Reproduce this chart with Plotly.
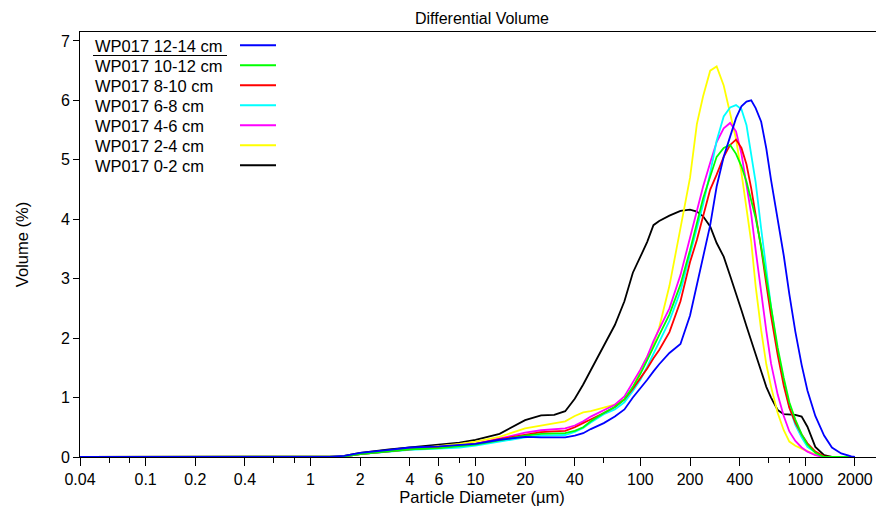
import plotly.graph_objects as go
import math

# Particle diameter grid (µm)
SIZES = [0.04, 1.0, 1.3, 1.6, 2, 3, 4, 6, 8, 10, 14, 20, 25, 30, 35, 40, 45, 50, 60, 70, 80, 90,
         100, 110, 120, 130, 150, 175, 200, 220, 240, 265, 290, 320, 350, 380, 410, 440, 470, 500,
         540, 580, 620, 680, 740, 800, 870, 950, 1030, 1150, 1300, 1450, 1650, 1900, 2000]

NAMES = ["WP017 12-14 cm", "WP017 10-12 cm", "WP017 8-10 cm", "WP017 6-8 cm",
         "WP017 4-6 cm", "WP017 2-4 cm", "WP017 0-2 cm"]
COLORS = ["#0000FF", "#00FF00", "#FF0000", "#00FFFF", "#FF00FF", "#FFFF00", "#000000"]

V_12_14 = [0, 0, 0, 0.02, 0.07, 0.12, 0.16, 0.18, 0.20, 0.22, 0.29, 0.34, 0.33, 0.33, 0.33, 0.36,
           0.40, 0.47, 0.57, 0.68, 0.80, 1.00, 1.15, 1.30, 1.44, 1.56, 1.75, 1.90, 2.38, 2.90, 3.38,
           3.90, 4.55, 5.05, 5.39, 5.70, 5.90, 5.98, 6.00, 5.87, 5.64, 5.19, 4.66, 4.02, 3.39, 2.74,
           2.11, 1.55, 1.12, 0.69, 0.36, 0.16, 0.06, 0.01, 0]
V_10_12 = [0, 0, 0, 0.01, 0.05, 0.10, 0.13, 0.15, 0.18, 0.21, 0.28, 0.36, 0.39, 0.39, 0.40, 0.44,
           0.50, 0.60, 0.74, 0.84, 0.97, 1.18, 1.40, 1.63, 1.86, 2.05, 2.40, 2.90, 3.48, 3.93, 4.35,
           4.72, 5.05, 5.20, 5.25, 5.10, 4.89, 4.63, 4.34, 4.02, 3.54, 3.02, 2.50, 1.84, 1.33, 0.92,
           0.63, 0.38, 0.21, 0.07, 0, 0, 0, 0, 0]
V_8_10 = [0, 0, 0, 0.01, 0.05, 0.10, 0.13, 0.16, 0.19, 0.22, 0.30, 0.38, 0.42, 0.43, 0.44, 0.50,
          0.57, 0.62, 0.74, 0.84, 0.97, 1.15, 1.32, 1.49, 1.66, 1.80, 2.10, 2.62, 3.28, 3.65, 4.05,
          4.50, 4.75, 5.05, 5.25, 5.34, 5.20, 4.92, 4.52, 4.09, 3.51, 2.91, 2.37, 1.72, 1.20, 0.83,
          0.58, 0.38, 0.23, 0.09, 0.01, 0, 0, 0, 0]
V_6_8 = [0, 0, 0, 0.01, 0.05, 0.09, 0.12, 0.14, 0.16, 0.19, 0.26, 0.33, 0.36, 0.37, 0.37, 0.42,
         0.49, 0.58, 0.72, 0.80, 0.92, 1.11, 1.30, 1.52, 1.73, 1.94, 2.29, 2.79, 3.42, 3.82, 4.25,
         4.78, 5.32, 5.73, 5.88, 5.92, 5.85, 5.58, 5.10, 4.62, 3.84, 3.16, 2.52, 1.77, 1.26, 0.84,
         0.54, 0.33, 0.17, 0.08, 0, 0, 0, 0, 0]
V_4_6 = [0, 0, 0, 0.01, 0.05, 0.10, 0.13, 0.16, 0.19, 0.22, 0.31, 0.41, 0.45, 0.46, 0.48, 0.53,
         0.60, 0.68, 0.79, 0.88, 1.02, 1.25, 1.47, 1.69, 1.95, 2.15, 2.50, 3.06, 3.70, 4.15, 4.55,
         4.95, 5.30, 5.53, 5.62, 5.48, 5.10, 4.58, 4.08, 3.48, 2.73, 2.12, 1.57, 1.05, 0.69, 0.43,
         0.27, 0.16, 0.09, 0.03, 0, 0, 0, 0, 0]
V_2_4 = [0, 0, 0, 0.01, 0.05, 0.10, 0.13, 0.18, 0.22, 0.26, 0.34, 0.48, 0.53, 0.56, 0.60, 0.69,
         0.75, 0.77, 0.83, 0.88, 0.97, 1.15, 1.46, 1.69, 1.90, 2.18, 2.88, 3.85, 4.70, 5.60, 6.07,
         6.50, 6.57, 6.25, 5.79, 5.35, 4.78, 4.13, 3.62, 2.87, 2.13, 1.56, 1.18, 0.74, 0.45, 0.26,
         0.19, 0.14, 0.10, 0.04, 0, 0, 0, 0, 0]
V_0_2 = [0, 0, 0, 0.02, 0.07, 0.13, 0.16, 0.20, 0.24, 0.29, 0.39, 0.62, 0.70, 0.71, 0.77, 0.98,
         1.22, 1.46, 1.87, 2.22, 2.62, 3.10, 3.37, 3.62, 3.90, 3.97, 4.06, 4.14, 4.16, 4.13, 4.05,
         3.88, 3.60, 3.37, 3.05, 2.76, 2.47, 2.20, 1.95, 1.72, 1.44, 1.18, 1.00, 0.79, 0.72, 0.71,
         0.71, 0.68, 0.51, 0.17, 0.03, 0, 0, 0, 0]

SERIES = [V_12_14, V_10_12, V_8_10, V_6_8, V_4_6, V_2_4, V_0_2]

X_TICKS = [0.04, 0.1, 0.2, 0.4, 1, 2, 4, 6, 10, 20, 40, 100, 200, 400, 1000, 2000]
X_TICKTEXT = ["0.04", "0.1", "0.2", "0.4", "1", "2", "4", "6", "10", "20", "40", "100", "200",
              "400", "1000", "2000"]
X_MINOR = [0.06, 0.08, 0.6, 0.8, 8, 60, 600, 800]
Y_TICKS = [0, 1, 2, 3, 4, 5, 6, 7]

FONT = "Liberation Sans, Arial, sans-serif"

# page has an 8px body margin: figure origin sits at (8, 8) in the window
OFF = 8
FIG_W, FIG_H = 884 - OFF, 511 - OFF
L, R, T, B = 80, 884, 32, 457   # plot area in window pixels


def px(x):
    return (x - L) / (R - L)


def py(y):
    return (B - y) / (B - T)


fig = go.Figure()
# draw in reverse so the first-listed series lies on top
for name, col, vals in reversed(list(zip(NAMES, COLORS, SERIES))):
    fig.add_trace(go.Scatter(x=SIZES, y=vals, mode="lines", name=name,
                             line=dict(color=col, width=1.8), showlegend=False))

# manual legend (text left, line sample right)
annotations = []
shapes = []
for i, (name, col) in enumerate(zip(NAMES, COLORS)):
    yc = 45.7 + 20 * i
    annotations.append(dict(text=name, xref="paper", yref="paper", x=px(93), y=py(yc),
                            xanchor="left", yanchor="middle", showarrow=False,
                            font=dict(family=FONT, size=16.5, color="black")))
    shapes.append(dict(type="line", xref="paper", yref="paper", x0=px(240), x1=px(276),
                       y0=py(yc - 0.5), y1=py(yc - 0.5), line=dict(color=col, width=2)))
shapes.append(dict(type="line", xref="paper", yref="paper", x0=px(93), x1=px(227),
                   y0=py(55.5), y1=py(55.5), line=dict(color="black", width=1)))

fig.update_layout(
    width=FIG_W, height=FIG_H,
    margin=dict(l=L - OFF, r=884 - R, t=T - OFF, b=FIG_H - (B - OFF)),
    paper_bgcolor="white", plot_bgcolor="white",
    font=dict(family=FONT, size=16, color="black"),
    title=dict(text="Differential Volume", x=0.5, xref="paper", xanchor="center",
               y=1 - (18 - OFF) / FIG_H, yref="container", yanchor="middle",
               font=dict(family=FONT, size=16, color="black")),
    annotations=annotations, shapes=shapes,
    showlegend=False,
)
fig.update_xaxes(
    type="log", range=[math.log10(0.04), math.log10(3000)],
    tickmode="array", tickvals=X_TICKS, ticktext=X_TICKTEXT,
    ticks="outside", ticklen=8, tickcolor="black", tickwidth=1,
    minor=dict(tickmode="array", tickvals=X_MINOR, ticks="outside", ticklen=5,
               tickcolor="black", tickwidth=1, showgrid=False),
    showline=True, linecolor="black", linewidth=1, mirror=True,
    showgrid=False, zeroline=False,
    title=dict(text="Particle Diameter (µm)", font=dict(family=FONT, size=16.5), standoff=2),
    tickfont=dict(family=FONT, size=16),
)
fig.update_yaxes(
    range=[0, 7.15], tickmode="array", tickvals=Y_TICKS,
    ticks="outside", ticklen=6, tickcolor="black",
    showline=True, linecolor="black", linewidth=1,
    showgrid=False, zeroline=False,
    title=dict(text="Volume (%)", font=dict(family=FONT, size=16.5), standoff=28),
    tickfont=dict(family=FONT, size=16),
)

fig.write_html("out.html")
